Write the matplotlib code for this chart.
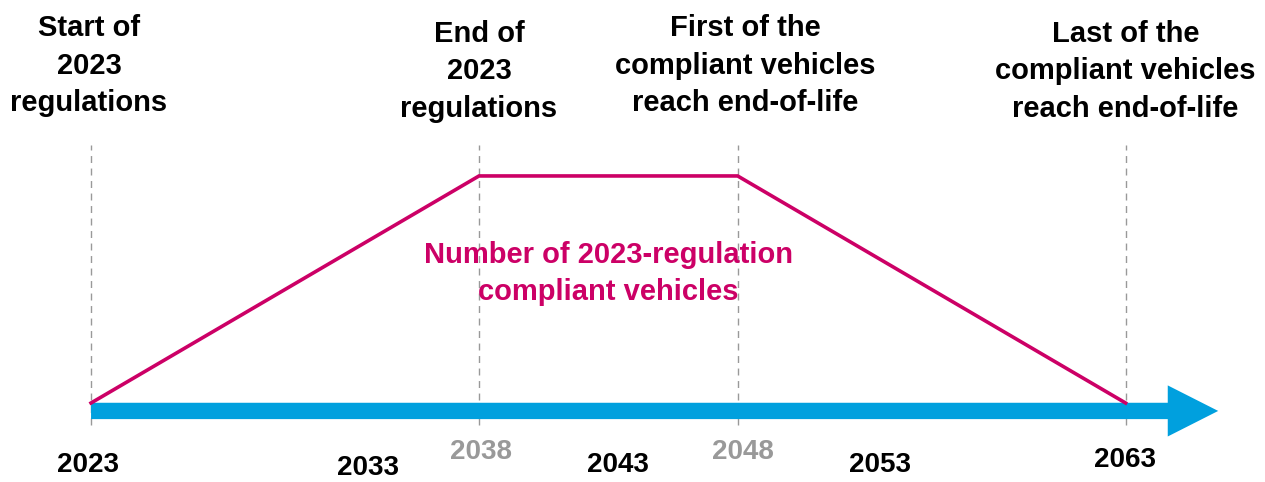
import matplotlib
matplotlib.use('Agg')
import matplotlib.pyplot as plt

# milestones of the 2023 regulation
milestone_years = [2023, 2038, 2048, 2063]
milestone_text = ['Start of\n2023\nregulations',
                  'End of\n2023\nregulations',
                  'First of the\ncompliant vehicles\nreach end-of-life',
                  'Last of the\ncompliant vehicles\nreach end-of-life']

# number of compliant vehicles (relative)
fleet_years = [2023, 2038, 2048, 2063]
fleet_level = [0, 1, 1, 0]

# year labels under the timeline
tick_years = [2023, 2033, 2038, 2043, 2048, 2053, 2063]
tick_grey = [False, False, True, False, True, False, False]

magenta = '#CC0066'
blue = '#00A0DE'
grey = '#999999'

fig = plt.figure(figsize=(12.65, 4.82), dpi=100)
ax = fig.add_axes([0, 0, 1, 1])
ax.set_xlim(2019.48, 2068.39)
ax.set_ylim(-0.348, 1.775)
ax.axis('off')

# timeline arrow
ax.arrow(2023, -0.035, 43.58, 0, width=0.072, head_width=0.225,
         head_length=1.95, length_includes_head=True,
         color=blue, linewidth=0, zorder=2)

# dashed markers
for yr in milestone_years:
    ax.plot([yr, yr], [-0.097, 1.137], color=grey, lw=1, ls=(0, (5, 4)), zorder=1)

ax.plot(fleet_years, fleet_level, color=magenta, lw=2.6, zorder=3,
        solid_joinstyle='miter')

# milestone headers
top_y = [0.864, 0.852, 0.864, 0.852]
top_dx = [-2, 0, 8, 0]
for yr, txt, yy, dx in zip(milestone_years, milestone_text, top_y, top_dx):
    ax.annotate(txt, xy=(yr, yy), xycoords=('data', 'axes fraction'),
                xytext=(dx, 0), textcoords='offset pixels',
                ha='center', va='center', fontsize=21, fontweight='bold',
                family='Liberation Sans', linespacing=1.42)

ax.text(2043, 0.432, 'Number of 2023-regulation\ncompliant vehicles',
        transform=ax.get_xaxis_transform(), ha='center', va='center',
        color=magenta, fontsize=21, fontweight='bold',
        family='Liberation Sans', linespacing=1.42)

# year labels
tick_y = [0.035, 0.029, 0.062, 0.035, 0.062, 0.035, 0.046]
tick_dx = [-3, 18, 2, 10, 5, 13, -1]
for yr, g, yy, dx in zip(tick_years, tick_grey, tick_y, tick_dx):
    ax.annotate(str(yr), xy=(yr, yy), xycoords=('data', 'axes fraction'),
                xytext=(dx, 0), textcoords='offset pixels',
                ha='center', va='center', fontsize=20, fontweight='bold',
                family='Liberation Sans',
                color=grey if g else 'black')

fig.savefig('out.png', dpi=100)
